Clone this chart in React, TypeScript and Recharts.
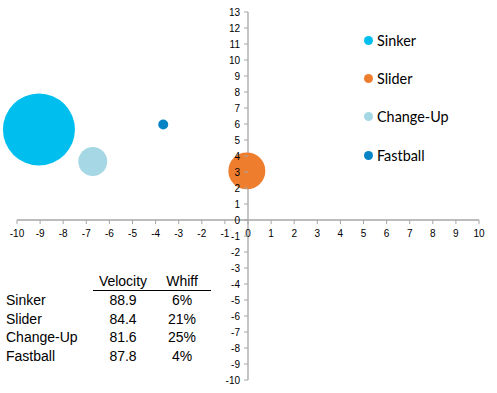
import { ScatterChart, Scatter, XAxis, YAxis, ZAxis, ReferenceLine, Legend } from 'recharts';

const pitches = ['Sinker', 'Slider', 'Change-Up', 'Fastball'];
const xValues = [-9.05, -0.05, -6.72, -3.67];
const yValues = [5.66, 3.07, 3.65, 5.97];
const bubbleSizes = [1296, 342, 210, 25];
const colors = ['#00BFEF', '#EE7E2E', '#A5D8E4', '#0784C6'];
const velocity = ['88.9', '84.4', '81.6', '87.8'];
const whiff = ['6%', '21%', '25%', '4%'];

const xTicks = [-10, -9, -8, -7, -6, -5, -4, -3, -2, -1, 0, 1, 2, 3, 4, 5, 6, 7, 8, 9, 10];
const yTicks = [-10, -9, -8, -7, -6, -5, -4, -3, -2, -1, 0, 1, 2, 3, 4, 5, 6, 7, 8, 9, 10, 11, 12, 13];

const W = 497;
const H = 393;
const AXIS_SIZE = 1;
const MARGIN = { top: 12, right: 18, bottom: 13 - AXIS_SIZE, left: 17 - AXIS_SIZE };
const X_DOMAIN: [number, number] = [-10, 10];
const Y_DOMAIN: [number, number] = [-10, 13];

const plotW = W - MARGIN.left - MARGIN.right - AXIS_SIZE;
const plotH = H - MARGIN.top - MARGIN.bottom - AXIS_SIZE;
// pixel position where the axes cross (value 0)
const zeroX = MARGIN.left + AXIS_SIZE + ((0 - X_DOMAIN[0]) / (X_DOMAIN[1] - X_DOMAIN[0])) * plotW;
const zeroY = MARGIN.top + ((Y_DOMAIN[1] - 0) / (Y_DOMAIN[1] - Y_DOMAIN[0])) * plotH;

const AXIS_COLOR = '#a6a6a6';
const TICK_FONT = { fontFamily: 'Liberation Sans, Arial, sans-serif', fontSize: 10, fill: '#000' };

function XTick({ x, payload }: any) {
  return (
    <g>
      <line x1={x} x2={x} y1={zeroY} y2={zeroY + 4} stroke={AXIS_COLOR} />
      <text x={x} y={zeroY + 17} textAnchor="middle" {...TICK_FONT}>{payload.value}</text>
    </g>
  );
}

function YTick({ y, payload }: any) {
  return (
    <g>
      <line x1={zeroX - 4} x2={zeroX} y1={y} y2={y} stroke={AXIS_COLOR} />
      <text x={zeroX - 8} y={y + 3.5} textAnchor="end" {...TICK_FONT}>{payload.value}</text>
    </g>
  );
}

function LegendBox({ payload }: any) {
  const items = [...(payload || [])].sort((a: any, b: any) => pitches.indexOf(a.value) - pitches.indexOf(b.value));
  return (
    <div>
      {items.map((p: any) => (
        <div key={p.value} style={{ display: 'flex', alignItems: 'center', height: 38.3 }}>
          <span style={{ width: 9, height: 9, borderRadius: '50%', background: p.color, marginRight: 4 }} />
          <span style={{ fontFamily: 'Lato, sans-serif', fontSize: 14.4, color: '#000' }}>{p.value}</span>
        </div>
      ))}
    </div>
  );
}

export default function App() {
  const series = pitches.map((name, i) => ({
    name,
    color: colors[i],
    data: [{ x: xValues[i], y: yValues[i], z: bubbleSizes[i] }],
  }));

  return (
    <div style={{ position: 'absolute', left: 0, top: 0, width: W, height: H, background: '#fff' }}>
      <ScatterChart width={W} height={H} margin={MARGIN}>
        <XAxis
          type="number"
          dataKey="x"
          domain={X_DOMAIN}
          ticks={xTicks}
          height={AXIS_SIZE}
          axisLine={false}
          tickLine={false}
          tick={<XTick />}
          interval={0}
        />
        <YAxis
          type="number"
          dataKey="y"
          domain={Y_DOMAIN}
          ticks={yTicks}
          width={AXIS_SIZE}
          axisLine={false}
          tickLine={false}
          tick={<YTick />}
          interval={0}
        />
        <ZAxis type="number" dataKey="z" domain={[0, 1300]} range={[0, 1300 * Math.PI]} />
        <ReferenceLine x={0} stroke={AXIS_COLOR} strokeWidth={1.3} />
        <ReferenceLine y={0} stroke={AXIS_COLOR} strokeWidth={1.3} />
        {series.map(s => (
          <Scatter key={s.name} name={s.name} data={s.data} fill={s.color} isAnimationActive={false} />
        ))}
        <Legend
          layout="vertical"
          verticalAlign="middle"
          align="center"
          content={<LegendBox />}
          wrapperStyle={{ left: 364, top: 21, width: 130 }}
        />
      </ScatterChart>

      <table
        style={{
          position: 'absolute',
          left: 3,
          top: 272,
          borderCollapse: 'collapse',
          fontFamily: 'Liberation Sans, Arial, sans-serif',
          fontSize: 14,
          lineHeight: '18.4px',
        }}
      >
        <thead>
          <tr>
            <th style={{ width: 90, padding: 0 }} />
            <th style={{ width: 60, padding: 0, fontWeight: 'normal', textAlign: 'center', borderBottom: '1.5px solid #000' }}>Velocity</th>
            <th style={{ width: 58, padding: 0, fontWeight: 'normal', textAlign: 'center', borderBottom: '1.5px solid #000' }}>Whiff</th>
          </tr>
        </thead>
        <tbody>
          {pitches.map((name, i) => (
            <tr key={name}>
              <td style={{ padding: '0 0 0 3px' }}>{name}</td>
              <td style={{ padding: 0, textAlign: 'center' }}>{velocity[i]}</td>
              <td style={{ padding: 0, textAlign: 'center' }}>{whiff[i]}</td>
            </tr>
          ))}
        </tbody>
      </table>
    </div>
  );
}
